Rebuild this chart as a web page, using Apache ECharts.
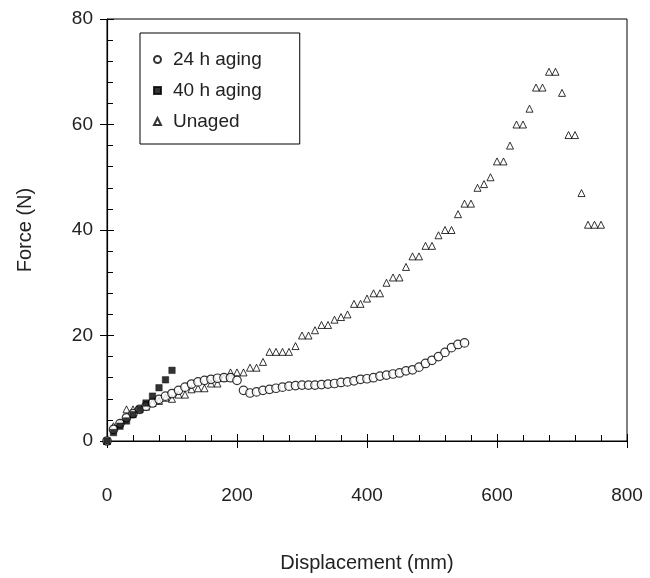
<!DOCTYPE html>
<html>
<head>
<meta charset="utf-8">
<script src="https://cdn.jsdelivr.net/npm/echarts@6/dist/echarts.min.js"></script>
<style>
  html, body { margin: 0; padding: 0; background: #fff; }
  #chart { width: 650px; height: 578px; }
</style>
</head>
<body>
<div id="chart"></div>
<script>
// displacement (mm) / force (N)
const aged24X = [0, 10, 20, 30, 40, 50, 60, 70, 80, 90, 100, 110, 120, 130, 140, 150, 160, 170, 180, 190, 200,
  210, 220, 230, 240, 250, 260, 270, 280, 290, 300, 310, 320, 330, 340, 350, 360, 370, 380, 390, 400,
  410, 420, 430, 440, 450, 460, 470, 480, 490, 500, 510, 520, 530, 540, 550];
const aged24Y = [0, 2.2, 3.3, 4.4, 5.2, 6.0, 6.6, 7.2, 7.9, 8.5, 9.0, 9.6, 10.2, 10.8, 11.2, 11.5, 11.7, 11.9, 12.0, 12.0, 11.5,
  9.6, 9.1, 9.3, 9.6, 9.8, 10.0, 10.2, 10.4, 10.5, 10.6, 10.6, 10.6, 10.7, 10.8, 10.9, 11.1, 11.2, 11.4, 11.7, 11.8,
  12.0, 12.3, 12.5, 12.7, 12.9, 13.3, 13.5, 14.0, 14.7, 15.3, 16.0, 16.8, 17.7, 18.3, 18.6];

const aged40X = [0, 10, 20, 30, 40, 50, 60, 70, 80, 90, 100];
const aged40Y = [0, 1.6, 2.8, 3.8, 5.0, 6.0, 7.2, 8.5, 10.1, 11.6, 13.4];

const unagedX = [0, 10, 20, 30, 40, 50, 60, 70, 80, 90, 100, 110, 120, 130, 140, 150, 160, 170, 180, 190, 200,
  210, 220, 230, 240, 250, 260, 270, 280, 290, 300, 310, 320, 330, 340, 350, 360, 370, 380, 390, 400,
  410, 420, 430, 440, 450, 460, 470, 480, 490, 500, 510, 520, 530, 540, 550, 560, 570, 580, 590, 600,
  610, 620, 630, 640, 650, 660, 670, 680, 690, 700, 710, 720, 730, 740, 750, 760];
const unagedY = [0, 2.8, 3.5, 6.0, 6.0, 6.0, 6.5, 7.2, 7.6, 8.2, 8.0, 8.8, 8.8, 9.8, 10.0, 10.0, 10.9, 10.9, 12.0, 13.0, 13.0,
  13.0, 13.9, 13.9, 15.0, 16.9, 16.9, 16.9, 16.9, 18.0, 20.0, 20.0, 21.0, 22.0, 22.0, 23.0, 23.5, 24.0, 26.0, 26.0, 27.0,
  28.0, 28.0, 30.0, 31.0, 31.0, 33.0, 35.0, 35.0, 37.0, 37.0, 39.0, 40.0, 40.0, 43.0, 45.0, 45.0, 48.0, 48.7, 50.0, 53.0,
  53.0, 56.0, 60.0, 60.0, 63.0, 67.0, 67.0, 70.0, 70.0, 66.0, 58.0, 58.0, 47.0, 41.0, 41.0, 41.0];

const xTicks = [0, 200, 400, 600, 800];
const yTicks = [0, 20, 40, 60, 80];

const zip = (xs, ys) => xs.map((x, i) => [x, ys[i]]);

const chart = echarts.init(document.getElementById('chart'));

const labelFont = { fontFamily: 'Liberation Sans, Arial, sans-serif', color: '#222' };

const baseX = {
  type: 'value', min: xTicks[0], max: xTicks[xTicks.length - 1], interval: 200,
  splitLine: { show: false }
};
const baseY = {
  type: 'value', min: yTicks[0], max: yTicks[yTicks.length - 1], interval: 20,
  splitLine: { show: false }
};

chart.setOption({
  animation: false,
  grid: {
    left: 107, right: 23, top: 19, bottom: 135,
    show: true, borderColor: '#000', borderWidth: 1, backgroundColor: 'transparent'
  },
  legend: {
    left: 140, top: 33, orient: 'vertical',
    backgroundColor: '#fff',
    borderColor: '#000', borderWidth: 1,
    padding: [17, 38, 13, 13],
    itemGap: 12, itemWidth: 7, itemHeight: 7,
    textStyle: Object.assign({ fontSize: 19, padding: [0, 0, 0, 7] }, labelFont),
    data: ['24 h aging', '40 h aging', 'Unaged']
  },
  xAxis: [
    Object.assign({}, baseX, {
      name: 'Displacement (mm)', nameLocation: 'middle', nameGap: 112,
      nameTextStyle: Object.assign({ fontSize: 20 }, labelFont),
      axisLine: { lineStyle: { color: '#000', width: 1.2 } },
      axisTick: { inside: true, length: 7, lineStyle: { color: '#000' } },
      minorTick: { show: true, splitNumber: 5, length: 6, lineStyle: { color: '#000' } },
      axisLabel: Object.assign({ fontSize: 19, margin: 45 }, labelFont)
    }),
    Object.assign({}, baseX, {
      position: 'bottom',
      axisLine: { show: false },
      axisTick: { inside: false, length: 7, lineStyle: { color: '#000' } },
      axisLabel: { show: false }
    })
  ],
  yAxis: [
    Object.assign({}, baseY, {
      name: 'Force (N)', nameLocation: 'middle', nameGap: 72,
      nameTextStyle: Object.assign({ fontSize: 20 }, labelFont),
      axisLine: { lineStyle: { color: '#000', width: 1.2 } },
      axisTick: { inside: true, length: 7, lineStyle: { color: '#000' } },
      minorTick: { show: true, splitNumber: 5, length: 6, lineStyle: { color: '#000' } },
      axisLabel: Object.assign({ fontSize: 19, margin: 14 }, labelFont)
    }),
    Object.assign({}, baseY, {
      position: 'left',
      axisLine: { show: false },
      axisTick: { inside: false, length: 7, lineStyle: { color: '#000' } },
      axisLabel: { show: false }
    })
  ],
  series: [
    {
      name: 'Unaged', type: 'scatter', data: zip(unagedX, unagedY),
      symbol: 'triangle', symbolSize: 7,
      itemStyle: { color: '#fff', borderColor: '#000', borderWidth: 1 }
    },
    {
      name: '24 h aging', type: 'scatter', data: zip(aged24X, aged24Y),
      symbol: 'circle', symbolSize: 8.5,
      itemStyle: { color: '#fff', borderColor: '#000', borderWidth: 1.2 }
    },
    {
      name: '40 h aging', type: 'scatter', data: zip(aged40X, aged40Y),
      symbol: 'rect', symbolSize: 6.5,
      itemStyle: { color: '#000', borderColor: '#000', borderWidth: 0.5 }
    }
  ]
});
</script>
</body>
</html>
